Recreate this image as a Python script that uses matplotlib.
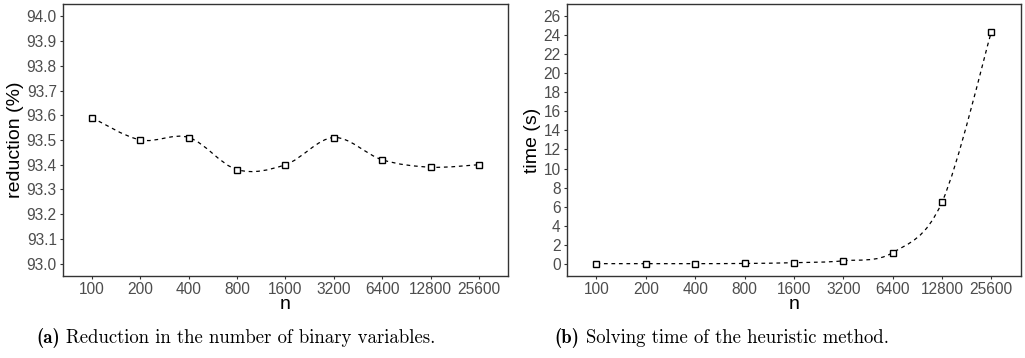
import numpy as np
import matplotlib.pyplot as plt
from matplotlib.path import Path
from matplotlib.patches import PathPatch

# data
n_labels = ['100', '200', '400', '800', '1600', '3200', '6400', '12800', '25600']
reduction = [93.59, 93.50, 93.51, 93.38, 93.40, 93.51, 93.42, 93.39, 93.40]
time_s = [0.0, 0.0, 0.0, 0.02, 0.1, 0.3, 1.15, 6.45, 24.35]

plt.rcParams['font.family'] = ['Liberation Sans', 'DejaVu Sans']


def smooth_path(x, y):
    # Catmull-Rom spline through the points, drawn as cubic Bezier segments
    x = np.asarray(x, float)
    y = np.asarray(y, float)
    pts = np.column_stack([x, y])
    verts = [pts[0]]
    codes = [Path.MOVETO]
    for i in range(len(pts) - 1):
        p0 = pts[i - 1] if i > 0 else pts[i]
        p1 = pts[i]
        p2 = pts[i + 1]
        p3 = pts[i + 2] if i + 2 < len(pts) else pts[i + 1]
        c1 = p1 + (p2 - p0) / 6
        c2 = p2 - (p3 - p1) / 6
        verts += [c1, c2, p2]
        codes += [Path.CURVE4] * 3
    return Path(verts, codes)


def panel(ax, y, ylabel, yticks, ylim):
    x = np.arange(1, len(n_labels) + 1)
    patch = PathPatch(smooth_path(x, y), facecolor='none', edgecolor='black',
                      lw=0.9, linestyle=(0, (3, 3)))
    ax.add_patch(patch)
    ax.plot(x, y, linestyle='none', marker='s', markersize=4.6,
            markerfacecolor='white', markeredgecolor='black', markeredgewidth=1.0)
    ax.set_xlim(0.4, len(n_labels) + 0.6)
    ax.set_ylim(*ylim)
    ax.set_xticks(x)
    ax.set_xticklabels(n_labels)
    ax.set_yticks(yticks)
    ax.tick_params(colors='#333333', labelcolor='#4d4d4d', labelsize=11.2,
                   length=2.5, width=0.8, pad=2)
    for s in ax.spines.values():
        s.set_color('#333333')
        s.set_linewidth(1.0)
    ax.set_xlabel('n', fontsize=14, labelpad=-1)
    ax.set_ylabel(ylabel, fontsize=14, labelpad=2)


fig = plt.figure(figsize=(10.25, 3.58), dpi=100)
ax1 = fig.add_axes([0.0615, 0.229, 0.434, 0.760])
ax2 = fig.add_axes([0.553, 0.229, 0.443, 0.760])

panel(ax1, reduction, 'reduction (%)', np.arange(93.0, 94.01, 0.1), (92.95, 94.05))
ax1.set_yticklabels(['%.1f' % v for v in np.arange(93.0, 94.01, 0.1)])
panel(ax2, time_s, 'time (s)', np.arange(0, 27, 2), (-1.3, 27.3))

# subcaptions: bold label followed by the roman text
cap_y = 0.055
renderer = fig.canvas.get_renderer()
for x0, lab, txt in [(0.035, '(a)', 'Reduction in the number of binary variables.'),
                     (0.541, '(b)', 'Solving time of the heuristic method.')]:
    t = fig.text(x0, cap_y, lab, fontsize=13.5, family='cmb10', ha='left', va='center')
    bb = t.get_window_extent(renderer)
    x1 = (bb.x1 + 6) / fig.bbox.width
    fig.text(x1, cap_y, txt, fontsize=13.5, family='cmr10', ha='left', va='center')

fig.savefig('out.png', dpi=100)
